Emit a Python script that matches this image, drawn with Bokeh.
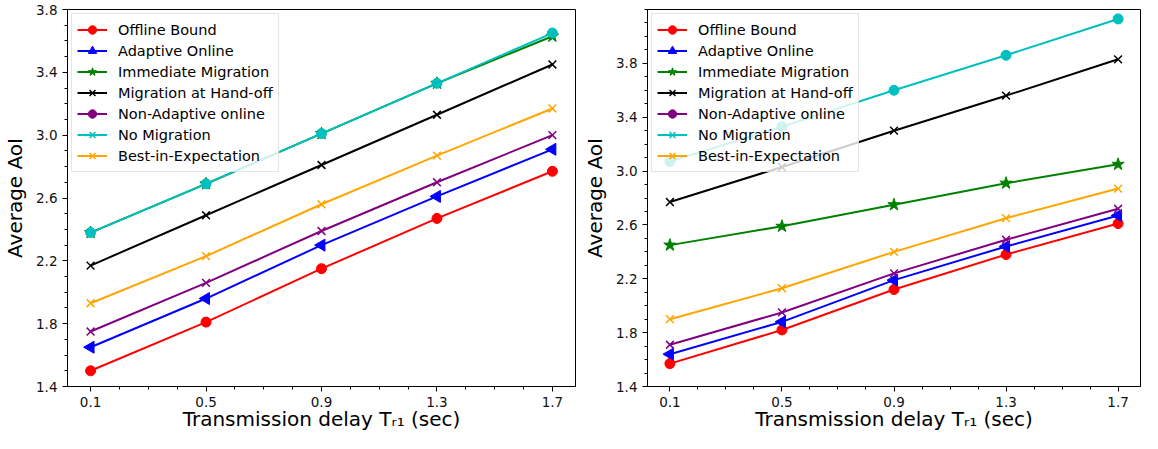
import numpy as np
from bokeh.plotting import figure
from bokeh.models import Range1d, FixedTicker, PrintfTickFormatter, Legend, LegendItem, ColumnDataSource
from bokeh.layouts import row
from bokeh.embed import file_html
from bokeh.resources import INLINE

# ---------------- data ----------------
delays = [0.1, 0.5, 0.9, 1.3, 1.7]
x_ticks = [0.1, 0.5, 0.9, 1.3, 1.7]
y_ticks = [1.4, 1.8, 2.2, 2.6, 3.0, 3.4, 3.8]

series_names = ["Offline Bound", "Adaptive Online", "Immediate Migration",
                "Migration at Hand-off", "Non-Adaptive online", "No Migration",
                "Best-in-Expectation"]

# left panel
left_offline = [1.50, 1.81, 2.15, 2.47, 2.77]
left_adaptive = [1.65, 1.96, 2.30, 2.61, 2.91]
left_immediate = [2.38, 2.69, 3.01, 3.33, 3.63]
left_handoff = [2.17, 2.49, 2.81, 3.13, 3.45]
left_nonadaptive = [1.75, 2.06, 2.39, 2.70, 3.00]
left_nomigration = [2.38, 2.69, 3.01, 3.33, 3.65]
left_best = [1.93, 2.23, 2.56, 2.87, 3.17]

# right panel
right_offline = [1.57, 1.82, 2.12, 2.38, 2.61]
right_adaptive = [1.64, 1.88, 2.19, 2.44, 2.67]
right_immediate = [2.45, 2.59, 2.75, 2.91, 3.05]
right_handoff = [2.77, 3.03, 3.30, 3.56, 3.83]
right_nonadaptive = [1.71, 1.95, 2.24, 2.49, 2.72]
right_nomigration = [3.07, 3.33, 3.60, 3.86, 4.13]
right_best = [1.90, 2.13, 2.40, 2.65, 2.87]

left_data = [left_offline, left_adaptive, left_immediate, left_handoff,
             left_nonadaptive, left_nomigration, left_best]
right_data = [right_offline, right_adaptive, right_immediate, right_handoff,
              right_nonadaptive, right_nomigration, right_best]

x_label = "Transmission delay Tᵣ₁ (sec)"
y_label = "Average AoI"

# ---------------- styles ----------------
colors = ["#ff0000", "#0000ff", "#008000", "#000000", "#800080", "#00bfbf", "#ffa500"]
plot_markers = ["circle", "triangle", "star", "x", "x", "circle", "x"]
legend_markers = ["circle", "triangle", "star", "x", "circle", "x", "x"]
FONT = "DejaVu Sans"


def marker_kwargs(marker, color):
    kw = dict(marker=marker, line_color=color, fill_color=color)
    if marker == "circle":
        kw.update(size=10, line_width=1)
    elif marker == "triangle":
        kw.update(size=12, line_width=1, angle=np.pi / 2)
    elif marker == "star":
        kw.update(size=13, line_width=1)
    else:
        kw.update(size=11, line_width=1.5)
    return kw


def make_fig(data, width, y_end, b_left, b_top, b_right):
    p = figure(width=width, height=433,
               output_backend="svg", toolbar_location=None,
               x_range=Range1d(0.02, 1.78), y_range=Range1d(1.4, y_end),
               min_border_left=b_left, min_border_top=b_top,
               min_border_right=b_right, min_border_bottom=0)
    p.xgrid.visible = False
    p.ygrid.visible = False
    p.outline_line_color = "black"
    p.outline_line_alpha = 1
    p.outline_line_width = 1
    p.background_fill_color = "white"
    p.border_fill_color = "white"

    p.xaxis.ticker = FixedTicker(ticks=x_ticks, minor_ticks=list(np.round(np.arange(0.0, 1.81, 0.1), 2)))
    p.yaxis.ticker = FixedTicker(ticks=y_ticks, minor_ticks=list(np.round(np.arange(1.4, y_end + 0.001, 0.1), 2)))
    for ax in (p.xaxis[0], p.yaxis[0]):
        ax.formatter = PrintfTickFormatter(format="%.1f")
        ax.axis_line_color = "black"
        ax.major_tick_line_color = "black"
        ax.minor_tick_line_color = "black"
        ax.major_tick_in = 0
        ax.major_tick_out = 5
        ax.minor_tick_in = 0
        ax.minor_tick_out = 3
        ax.major_label_text_font = FONT
        ax.major_label_text_font_size = "13.5px"
        ax.major_label_text_color = "#111111"
        ax.major_label_text_line_height = 1.0
        ax.axis_label_text_font = FONT
        ax.axis_label_text_font_size = "20px"
        ax.axis_label_text_font_style = "normal"
        ax.axis_label_text_line_height = 1.0
        ax.axis_label_text_color = "black"
        ax.major_label_standoff = 5
    p.yaxis.axis_label = y_label
    p.yaxis.axis_label_standoff = 6
    p.xaxis.axis_label = x_label
    p.xaxis.axis_label_standoff = -3

    items = []
    for name, vals, col, pm, lm in zip(series_names, data, colors, plot_markers, legend_markers):
        src = ColumnDataSource(dict(x=delays, y=vals))
        p.line("x", "y", source=src, line_color=col, line_width=2)
        p.scatter("x", "y", source=src, **marker_kwargs(pm, col))
        # legend-only renderers (one point far outside the visible ranges)
        hidden = ColumnDataSource(dict(x=[-100.0], y=[-100.0]))
        lr = p.line("x", "y", source=hidden, line_color=col, line_width=2)
        mr = p.scatter("x", "y", source=hidden, **marker_kwargs(lm, col))
        items.append(LegendItem(label=name, renderers=[lr, mr]))

    legend = Legend(items=items, location="top_left")
    legend.label_text_font = FONT
    legend.label_text_font_size = "14.5px"
    legend.label_text_color = "black"
    legend.glyph_width = 30
    legend.glyph_height = 21
    legend.label_height = 21
    legend.spacing = 0
    legend.padding = 5
    legend.margin = 4
    legend.label_standoff = 11
    legend.border_line_color = "#cccccc"
    legend.border_line_width = 1
    legend.background_fill_alpha = 0.8
    p.add_layout(legend, "center")
    return p


p1 = make_fig(left_data, 580, 3.8, 56, 4, 5)
p2 = make_fig(right_data, 562, 4.2, 58, 9, 2)

layout = row(p1, p2)
open("out.html", "w").write(file_html(layout, INLINE))
